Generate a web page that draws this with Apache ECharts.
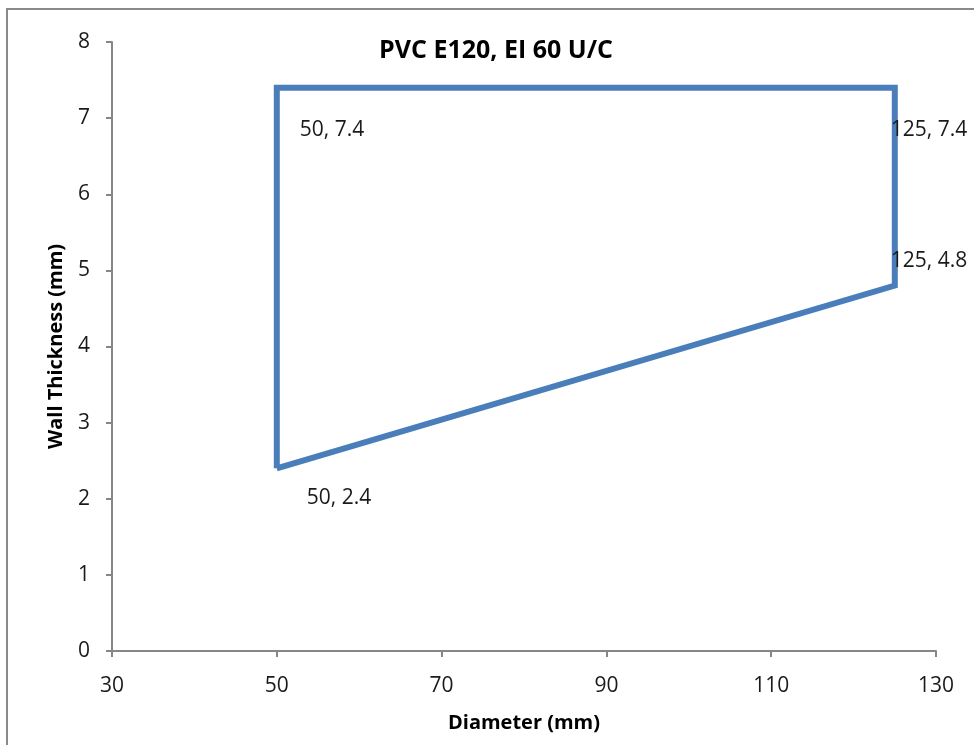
<!DOCTYPE html>
<html>
<head>
<meta charset="utf-8">
<script src="https://cdn.jsdelivr.net/npm/echarts@6/dist/echarts.min.js"></script>
<style>
html,body{margin:0;padding:0;background:#fff;}
#frame{position:absolute;left:6px;top:8px;width:1000px;height:800px;border:2px solid #8a8a8a;box-sizing:border-box;}
#chart{position:absolute;left:0;top:0;width:974px;height:745px;}
</style>
</head>
<body>
<div id="frame"></div>
<div id="chart"></div>
<script>
const titleText = 'PVC E120, EI 60 U/C';
const xName = 'Diameter (mm)';
const yName = 'Wall Thickness (mm)';
const diameters = [50, 50, 125, 125, 50];
const thickness = [2.4, 7.4, 7.4, 4.8, 2.4];
const labelShown = [true, true, true, true, false];
const labelOffsets = [[30, 30], [23, 42], [-4, 42], [-4, -25], [0, 0]];

const font = 'Open Sans, Liberation Sans, sans-serif';
const data = diameters.map((d, i) => ({
  value: [d, thickness[i]],
  label: {
    show: labelShown[i],
    position: 'inside',
    align: 'left',
    verticalAlign: 'middle',
    offset: labelOffsets[i],
    formatter: d + ', ' + thickness[i],
    color: '#1a1a1a',
    fontSize: 21,
    fontFamily: font
  }
}));

const chart = echarts.init(document.getElementById('chart'), null, {renderer: 'canvas'});
chart.setOption({
  backgroundColor: 'transparent',
  animation: false,
  title: {
    text: titleText,
    left: 491, top: 33,
    textAlign: 'center',
    textStyle: {fontSize: 25, fontWeight: 'bold', color: '#000', fontFamily: font}
  },
  grid: {left: 112, top: 42, right: 38, bottom: 94, containLabel: false},
  xAxis: {
    type: 'value', min: 30, max: 130, interval: 20,
    name: xName, nameLocation: 'middle', nameGap: 62,
    nameTextStyle: {fontSize: 20, fontWeight: 'bold', color: '#000', fontFamily: font},
    axisLine: {show: true, lineStyle: {color: '#868686', width: 2}},
    axisTick: {show: true, length: 6, lineStyle: {color: '#868686', width: 2}},
    axisLabel: {fontSize: 21, color: '#1a1a1a', fontFamily: font, margin: 25},
    splitLine: {show: false}
  },
  yAxis: {
    type: 'value', min: 0, max: 8, interval: 1,
    name: yName, nameLocation: 'middle', nameGap: 46, nameRotate: 90,
    nameTextStyle: {fontSize: 20, fontWeight: 'bold', color: '#000', fontFamily: font},
    axisLine: {show: true, lineStyle: {color: '#868686', width: 2}},
    axisTick: {show: true, length: 6, lineStyle: {color: '#868686', width: 2}},
    axisLabel: {fontSize: 21, color: '#1a1a1a', fontFamily: font, margin: 22},
    splitLine: {show: false}
  },
  series: [{
    type: 'line',
    data: data,
    showSymbol: true,
    symbol: 'circle',
    symbolSize: 0,
    lineStyle: {color: '#4A7EBB', width: 6, join: 'miter', cap: 'butt'},
    itemStyle: {color: '#4A7EBB'},
    emphasis: {disabled: true}
  }]
});
</script>
</body>
</html>
